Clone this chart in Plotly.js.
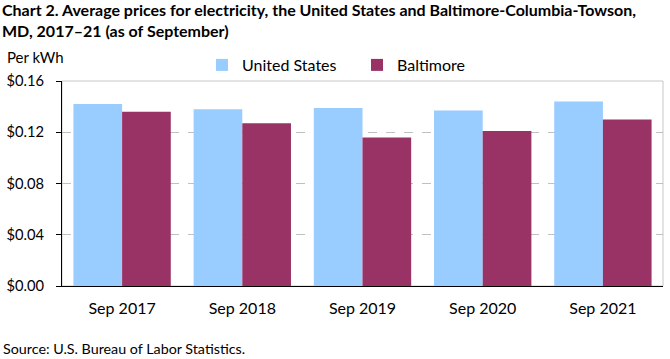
<!DOCTYPE html>
<html>
<head>
<meta charset="utf-8">
<script src="https://cdn.plot.ly/plotly-3.0.1.min.js"></script>
<style>html,body{margin:0;padding:0;background:#fff;}#chart{width:670px;height:359px;}</style>
</head>
<body>
<div id="chart"></div>
<script>
const categories = ["Sep 2017", "Sep 2018", "Sep 2019", "Sep 2020", "Sep 2021"];
const usValues = [0.142, 0.138, 0.139, 0.137, 0.144];
const baltimoreValues = [0.136, 0.127, 0.116, 0.121, 0.130];
const yTickVals = [0, 0.04, 0.08, 0.12, 0.16];
const yTickText = ["$0.00", "$0.04", "$0.08", "$0.12", "$0.16"];

const FONT = "Lato, 'Open Sans', sans-serif";
// plot area: x 62..663, y 81..286 (px)
const PW = 601, PH = 205, PL = 62, PB = 286;
const px = v => (v - PL) / PW;
const py = v => (PB - v) / PH;

const traces = [
  {type: "bar", name: "United States", x: categories, y: usValues,
   marker: {color: "#99ccff", line: {color: "#99ccff", width: 0}}, hoverinfo: "skip"},
  {type: "bar", name: "Baltimore", x: categories, y: baltimoreValues,
   marker: {color: "#993366", line: {color: "#993366", width: 0}}, hoverinfo: "skip"}
];

const layout = {
  width: 670, height: 359,
  margin: {l: 62, r: 7, t: 81, b: 73, pad: 0},
  paper_bgcolor: "#fff", plot_bgcolor: "#fff",
  font: {family: FONT, size: 13, color: "#000"},
  barmode: "group", bargap: 0.19, bargroupgap: 0,
  showlegend: true,
  legend: {orientation: "h", x: px(202), xanchor: "left", y: py(65), yanchor: "middle",
           font: {family: FONT, size: 16, color: "#000"}, traceorder: "normal",
           itemwidth: 30, entrywidth: 110, entrywidthmode: "pixels", bgcolor: "rgba(0,0,0,0)"},
  xaxis: {
    type: "category", showline: true, linecolor: "#000", linewidth: 1,
    ticks: "", showgrid: false, ticklabelstandoff: 8,
    tickfont: {family: FONT, size: 16, color: "#000"}, fixedrange: true
  },
  yaxis: {
    range: [0, 0.16], tickvals: yTickVals, ticktext: yTickText,
    showline: true, linecolor: "#000", linewidth: 1,
    ticks: "outside", ticklen: 5, tickcolor: "#000",
    showgrid: true, gridcolor: "#c0c0c0", griddash: "dash", gridwidth: 1,
    zeroline: false, tickfont: {family: FONT, size: 14.7, color: "#000"},
    ticklabelstandoff: 9, fixedrange: true
  },
  shapes: [
    {type: "rect", xref: "paper", yref: "paper", x0: 0, x1: 1, y0: 0, y1: 1,
     line: {color: "#c8c8c8", width: 1}, layer: "below"}
  ],
  annotations: [
    {text: "<b>Chart 2. Average prices for electricity, the United States and Baltimore-Columbia-Towson,<br>MD, 2017–21 (as of September)</b>",
     xref: "paper", yref: "paper", x: px(0), xanchor: "left", y: py(-2), yanchor: "top", align: "left",
     showarrow: false, font: {family: FONT, size: 16, color: "#000"}},
    {text: "Per kWh", xref: "paper", yref: "paper", x: px(5), xanchor: "left",
     y: py(57), yanchor: "middle", showarrow: false, font: {family: FONT, size: 15, color: "#000"}},
    {text: "Source: U.S. Bureau of Labor Statistics.", xref: "paper", yref: "paper", x: px(1), xanchor: "left",
     y: py(359), yanchor: "bottom", showarrow: false, font: {family: FONT, size: 14.3, color: "#000"}}
  ]
};

Plotly.newPlot("chart", traces, layout, {displayModeBar: false, staticPlot: true});
</script>
</body>
</html>
